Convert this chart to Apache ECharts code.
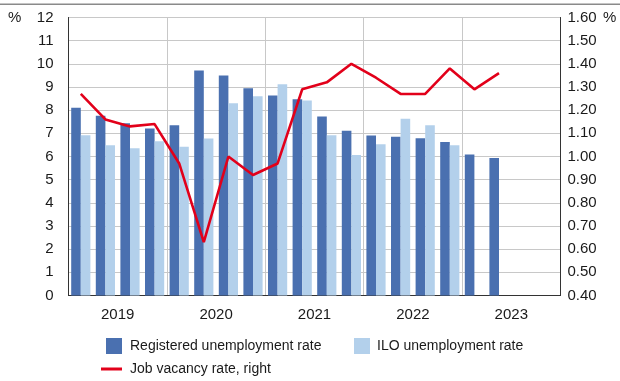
<!DOCTYPE html>
<html>
<head>
<meta charset="utf-8">
<script src="https://cdn.jsdelivr.net/npm/echarts@6/dist/echarts.min.js"></script>
<style>
  html, body { margin: 0; padding: 0; background: #fff; }
  #container { width: 620px; height: 381px; }
</style>
</head>
<body>
<div id="container"></div>
<script>
// Quarterly data, 2019Q1 - 2023Q4
const quarters = [
  '2019Q1', '2019Q2', '2019Q3', '2019Q4',
  '2020Q1', '2020Q2', '2020Q3', '2020Q4',
  '2021Q1', '2021Q2', '2021Q3', '2021Q4',
  '2022Q1', '2022Q2', '2022Q3', '2022Q4',
  '2023Q1', '2023Q2', '2023Q3', '2023Q4'
];
const years = ['2019', '2020', '2021', '2022', '2023'];

const registered = [
  8.10, 7.76, 7.44, 7.21,
  7.35, 9.71, 9.50, 8.95,
  8.63, 8.47, 7.73, 7.11,
  6.91, 6.85, 6.79, 6.63,
  6.09, 5.94, null, null
];
const ilo = [
  6.92, 6.49, 6.36, 6.66,
  6.42, 6.78, 8.30, 8.60,
  9.12, 8.42, 6.92, 6.06,
  6.53, 7.63, 7.35, 6.49,
  null, null, null, null
];
const vacancy = [
  1.27, 1.16, 1.13, 1.14,
  0.97, 0.63, 1.00, 0.92,
  0.97, 1.29, 1.32, 1.40,
  1.34, 1.27, 1.27, 1.38,
  1.29, 1.36, null, null
];

const leftTicks = { min: 0, max: 12, interval: 1 };
const rightTicks = { min: 0.4, max: 1.6, interval: 0.1 };

const FONT = "'Liberation Sans', Arial, sans-serif";
const DARK = '#4a70b0';
const LIGHT = '#b3d0eb';
const RED = '#e2001a';

const container = document.getElementById('container');
const chart = echarts.init(container, null, { renderer: 'canvas' });

const tickStyle = { color: '#1a1a1a', fontFamily: FONT, fontSize: 15 };
const legendText = { color: '#1a1a1a', fontFamily: FONT, fontSize: 14 };

const option = {
  animation: false,
  textStyle: { fontFamily: FONT },
  grid: {
    left: 68.5, right: 59.5, top: 17.5, bottom: 85.5,
    show: true, borderColor: '#333', borderWidth: 1, backgroundColor: 'transparent'
  },
  graphic: [
    { type: 'rect', shape: { x: 0, y: 3.5, width: 620, height: 1.5 }, style: { fill: '#8a8a8a' } },
    { type: 'text', left: 8, top: 10, style: { text: '%', font: '15px ' + FONT, fill: '#1a1a1a' } },
    { type: 'text', left: 603, top: 10, style: { text: '%', font: '15px ' + FONT, fill: '#1a1a1a' } }
  ],
  legend: [
    {
      data: [{ name: 'Registered unemployment rate', icon: 'rect' }],
      left: 106, top: 338, padding: 0, itemWidth: 16, itemHeight: 16,
      textStyle: Object.assign({ padding: [0, 0, 0, 3] }, legendText)
    },
    {
      data: [{ name: 'ILO unemployment rate', icon: 'rect' }],
      left: 354, top: 338, padding: 0, itemWidth: 16, itemHeight: 16,
      textStyle: Object.assign({ padding: [0, 0, 0, 2] }, legendText)
    },
    {
      data: [{ name: 'Job vacancy rate, right', icon: 'rect' }],
      left: 101, top: 362, padding: 0, itemWidth: 21, itemHeight: 3,
      textStyle: Object.assign({ padding: [0, 0, 0, 3] }, legendText)
    }
  ],
  xAxis: [
    {
      type: 'category',
      data: quarters,
      boundaryGap: true,
      axisLine: { show: true, lineStyle: { color: '#333', width: 1 } },
      axisTick: { show: false },
      axisLabel: { show: false },
      splitLine: { show: true, interval: 3, lineStyle: { color: '#c8c8c8', width: 1 } }
    },
    {
      type: 'category',
      data: years,
      position: 'bottom',
      axisLine: { show: false },
      axisTick: { show: false },
      splitLine: { show: false },
      axisLabel: Object.assign({ margin: 12 }, tickStyle)
    }
  ],
  yAxis: [
    {
      type: 'value',
      min: leftTicks.min, max: leftTicks.max, interval: leftTicks.interval,
      axisLine: { show: true, lineStyle: { color: '#333' } },
      axisTick: { show: false },
      axisLabel: Object.assign({ margin: 15 }, tickStyle),
      splitLine: { show: true, lineStyle: { color: '#c8c8c8', width: 1 } }
    },
    {
      type: 'value',
      position: 'right',
      min: rightTicks.min, max: rightTicks.max, interval: rightTicks.interval,
      axisLine: { show: true, lineStyle: { color: '#333' } },
      axisTick: { show: false },
      axisLabel: Object.assign({ margin: 7, formatter: v => v.toFixed(2) }, tickStyle),
      splitLine: { show: false }
    }
  ],
  series: [
    {
      name: 'Registered unemployment rate',
      type: 'bar',
      data: registered,
      barWidth: 9.6,
      barGap: '0%',
      itemStyle: { color: DARK }
    },
    {
      name: 'ILO unemployment rate',
      type: 'bar',
      data: ilo,
      barWidth: 9.6,
      barGap: '0%',
      itemStyle: { color: LIGHT }
    },
    {
      name: 'Job vacancy rate, right',
      type: 'line',
      yAxisIndex: 1,
      data: vacancy,
      symbol: 'none',
      lineStyle: { color: RED, width: 2.6 },
      itemStyle: { color: RED }
    }
  ]
};

chart.setOption(option);
</script>
</body>
</html>
